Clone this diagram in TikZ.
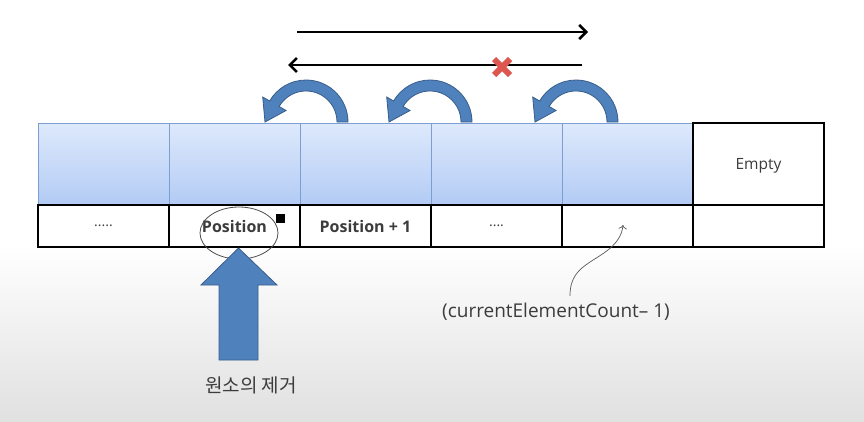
\documentclass[tikz,border=0pt]{standalone}
\usepackage{fontspec}
\setmainfont{Open Sans}
\newfontfamily\krfont{Noto Sans CJK KR}
\usetikzlibrary{arrows.meta,positioning,calc}
\definecolor{cellTop}{RGB}{222,233,252}
\definecolor{cellBot}{RGB}{178,203,244}
\definecolor{cellEdge}{RGB}{125,158,210}
\definecolor{arrFill}{RGB}{79,129,189}
\definecolor{arrEdge}{RGB}{56,93,138}
\definecolor{crossRed}{RGB}{222,86,80}
\definecolor{txtGray}{RGB}{60,60,60}
\tikzset{
  topcell/.style={rectangle, minimum width=131pt, minimum height=82pt, inner sep=0pt,
                  outer sep=0pt, draw=cellEdge, top color=cellTop, bottom color=cellBot},
  emptycell/.style={rectangle, minimum width=131pt, minimum height=82pt, inner sep=0pt,
                    outer sep=0pt, draw=black, line width=1.3pt, fill=white,
                    font=\fontsize{15.5}{18}\selectfont, text=txtGray},
  idxcell/.style={rectangle, minimum width=131pt, minimum height=42pt, inner sep=0pt,
                  outer sep=0pt, draw=black, line width=1.4pt, fill=white,
                  font=\fontsize{16}{18}\selectfont, text=txtGray},
  dirarrow/.style={line width=2.6pt, -{Straight Barb[length=7pt,width=14pt]}},
  bigarrow/.style={fill=arrFill, draw=arrEdge, line width=0.8pt},
  note/.style={font=\fontsize{19}{22}\selectfont, text=txtGray},
  krnote/.style={font=\krfont\fontsize{19}{22}\selectfont, text=txtGray},
}

\begin{document}
\begin{tikzpicture}[x=1pt,y=1pt]
  \useasboundingbox (0,0) rectangle (864,-421);
  \fill[white] (0,0) rectangle (864,-421);
  \shade[top color=white, bottom color=gray!24] (0,-245) rectangle (864,-421);

  % Array slots
  \node[topcell] (t1) at (103.5,-164) {};
  \foreach \i [count=\j] in {2,...,5}
    \node[topcell, right=0pt of t\j] (t\i) {};
  \node[emptycell, right=0pt of t5, text depth=-3pt] (t6) {Empty};

  % Index row
  \node[idxcell, below=0pt of t1] (b1) {\fontsize{14}{16}\selectfont .....};
  \node[idxcell, below=0pt of t2] (b2) {\bfseries Position};
  \node[idxcell, below=0pt of t3] (b3) {\bfseries Position + 1};
  \node[idxcell, below=0pt of t4] (b4) {\fontsize{14}{16}\selectfont ....};
  \node[idxcell, below=0pt of t5] (b5) {};
  \node[idxcell, below=0pt of t6] (b6) {};

  % Shift direction
  \coordinate (fwdA) at (297,-32);
  \coordinate (fwdB) at (588,-32);
  \coordinate (backA) at (582,-65);
  \coordinate (backB) at (288,-65);
  \draw[dirarrow] (fwdA) -- (fwdB);
  \draw[dirarrow] (backA) -- (backB);
  \coordinate (cross) at (502,-67);
  \draw[crossRed, line width=6pt] ($(cross)+(-8,-8)$) -- ($(cross)+(8,8)$)
                                  ($(cross)+(-8,8)$) -- ($(cross)+(8,-8)$);

  % U-turn arrows
  \foreach \cx in {306,430,576}{
    \coordinate (c) at (\cx,-122);
    \filldraw[bigarrow] ($(c)+(31,0)$) -- ($(c)+(42,0)$) arc (0:150:42)
      -- ($(c)+(150:50)$) -- ($(c)+(-41,0)$) -- ($(c)+(150:23)$)
      -- ($(c)+(150:31)$) arc (150:0:31) -- cycle;
  }

  % Removed element
  \draw[gray!60!black, line width=0.8pt] ($(b2)+(4.5,-7)$) ellipse (39 and 26);
  \node[fill=black, minimum size=9pt, inner sep=0pt] (handle) at ($(b2)+(45.5,8)$) {};
  \filldraw[bigarrow] (219,-360) -- (219,-285) -- (201,-285) -- (238.5,-248)
    -- (277,-285) -- (258,-285) -- (258,-360) -- cycle;
  \node[krnote] (remove) at (251,-385) {원소의 제거};

  % Last element index
  \node[note] (cnt) at (556,-312) {(currentElementCount– 1)};
  \coordinate (slot) at ($(b5)+(-4.5,1)$);
  \draw[gray!70!black, line width=0.7pt, -{To[length=4pt]}]
    ($(cnt.north)+(14,4)$) .. controls +(0,18) and +(-12,-8) .. (590,-262)
    .. controls +(12,8) and +(-2,-20) .. (slot);
\end{tikzpicture}
\end{document}
